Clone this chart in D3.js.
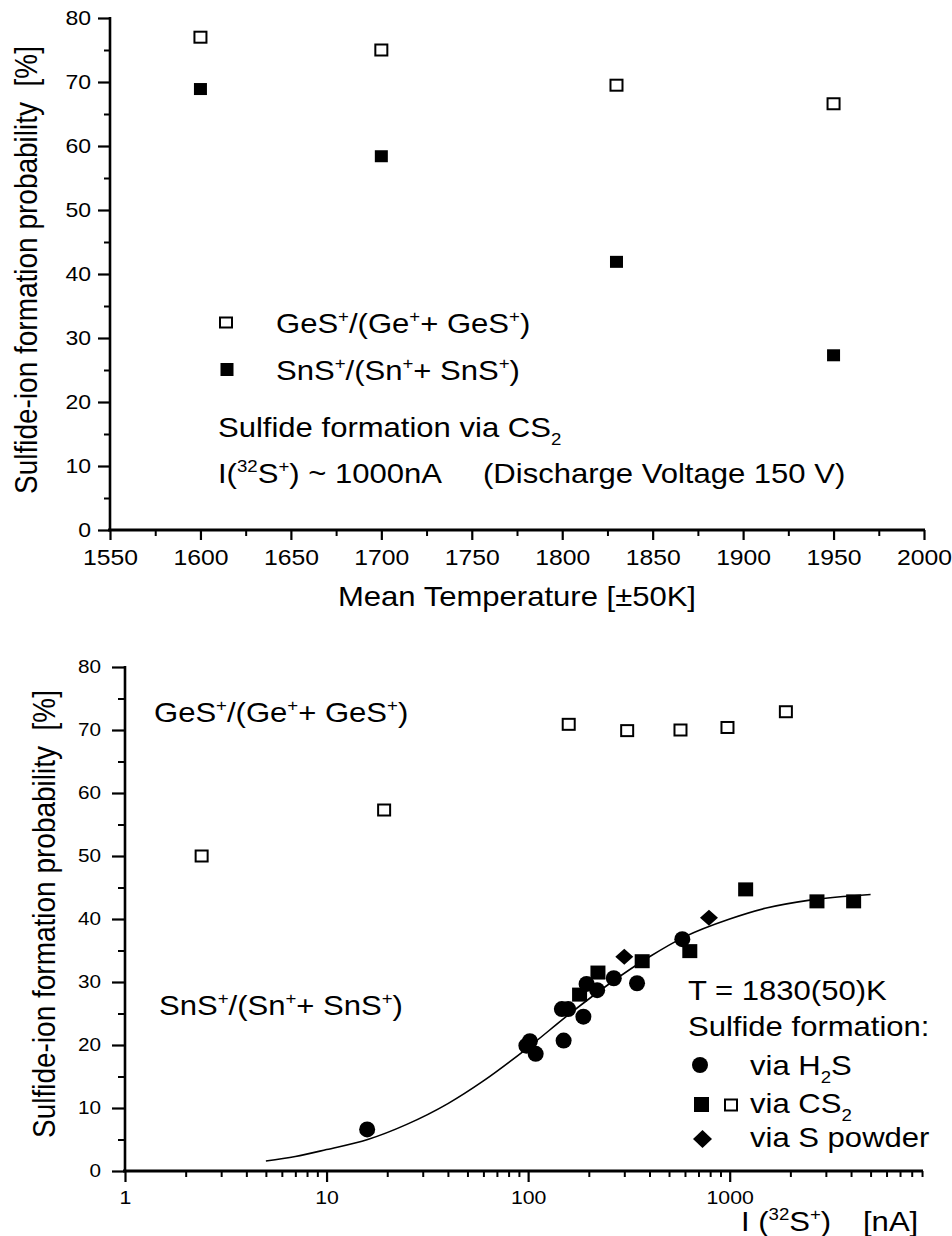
<!DOCTYPE html>
<html><head><meta charset="utf-8">
<script src="https://cdn.jsdelivr.net/npm/d3@7"></script>
<style>
html,body{margin:0;padding:0;background:#fff;}
svg{display:block;font-family:"Liberation Sans",Arial,Helvetica,sans-serif;}
</style></head><body>
<svg id="fig" width="952" height="1236"></svg>
<script>
// ---- Upper panel: formation probability vs. mean temperature (CS2 source) ----
const temps      = [1600, 1700, 1830, 1950];
const gesVsTemp  = [77.0, 75.0, 69.5, 66.6];   // GeS+/(Ge+ + GeS+)
const snsVsTemp  = [68.9, 58.4, 41.9, 27.3];   // SnS+/(Sn+ + SnS+)
const tempTicks  = [1550, 1600, 1650, 1700, 1750, 1800, 1850, 1900, 1950, 2000];
const tempMinor  = [1575, 1625, 1675, 1725, 1775, 1825, 1875, 1925, 1975];
const probTicks  = [0, 10, 20, 30, 40, 50, 60, 70, 80];
const probMinor  = [5, 15, 25, 35, 45, 55, 65, 75];

// ---- Lower panel: formation probability vs. 32S+ current, T = 1830(50) K ----
const gesCs2I    = [2.4, 19.3, 159, 310, 570, 975, 1900];
const gesCs2P    = [50.0, 57.3, 70.9, 69.9, 70.0, 70.4, 72.9];
const snsCs2I    = [180, 222, 368, 634, 1200, 2710, 4120];
const snsCs2P    = [28.0, 31.5, 33.3, 34.9, 44.7, 42.8, 42.8];
const snsH2sI    = [15.9, 98, 102, 109, 150, 147, 158, 188, 195, 220, 266, 347, 582];
const snsH2sP    = [6.6, 19.9, 20.6, 18.6, 20.7, 25.7, 25.7, 24.5, 29.7, 28.7, 30.6, 29.8, 36.8];
const snsPowderI = [300, 789];
const snsPowderP = [34.0, 40.2];
const fitI       = [5, 7, 10, 16, 25, 40, 60, 100, 160, 250, 400, 600, 1000, 1500, 2500, 5000];
const fitP       = [1.6, 2.3, 3.4, 5.0, 7.4, 10.7, 14.3, 19.6, 24.9, 29.6, 34.0, 37.2, 40.0, 41.7, 43.0, 43.9];
const currentTicks = [1, 10, 100, 1000];

const SX = 1.15;           // horizontal stretch of the lettering
const svg = d3.select("#fig");

// text with super/subscript parts: parts = ["abc", ["+", "sup"], ["2", "sub"], ...]
function rich(parent, x, y, parts, size, anchor = "start", rot = 0) {
  const g = parent.append("g")
    .attr("transform", `translate(${x},${y}) scale(${SX},1)` + (rot ? ` rotate(${rot})` : ""));
  const t = g.append("text").attr("font-size", size).attr("text-anchor", anchor).attr("fill", "#000");
  let shift = 0;
  parts.forEach(p => {
    const [s, kind] = Array.isArray(p) ? p : [p, null];
    const target = kind === "sup" ? -0.42 * size : kind === "sub" ? 0.3 * size : 0;
    const ts = t.append("tspan").attr("dy", target - shift).text(s);
    if (kind) ts.attr("font-size", size * 0.6);
    shift = target;
  });
  return t;
}

function styleAxis(g, lw) {
  g.selectAll("path.domain").remove();
  g.selectAll(".tick line").attr("stroke", "#000").attr("stroke-width", lw);
}

function squareOpen(g, cx, cy, w, h) {
  g.append("rect").attr("x", cx - w / 2).attr("y", cy - h / 2).attr("width", w).attr("height", h)
    .attr("fill", "#fff").attr("stroke", "#000").attr("stroke-width", 2);
}
function squareFilled(g, cx, cy, w, h) {
  g.append("rect").attr("x", cx - w / 2).attr("y", cy - h / 2).attr("width", w).attr("height", h).attr("fill", "#000");
}
function diamond(g, cx, cy, hw, hh) {
  g.append("path").attr("d", `M${cx},${cy - hh}L${cx + hw},${cy}L${cx},${cy + hh}L${cx - hw},${cy}Z`).attr("fill", "#000");
}

// ================= Upper panel =================
{
  const x = d3.scaleLinear().domain([1550, 2000]).range([110, 924]);
  const y = d3.scaleLinear().domain([0, 80]).range([530, 18]);
  const top = svg.append("g");

  // minor + major ticks
  const yMin = top.append("g").attr("transform", "translate(110,0)")
    .call(d3.axisLeft(y).tickValues(probMinor).tickSize(6).tickSizeOuter(0).tickFormat(""));
  styleAxis(yMin, 2);
  const yMaj = top.append("g").attr("transform", "translate(110,0)")
    .call(d3.axisLeft(y).tickValues(probTicks).tickSize(12).tickSizeOuter(0).tickPadding(7));
  styleAxis(yMaj, 2.2);
  yMaj.selectAll("text").attr("font-size", 20).attr("fill", "#000").attr("font-family", null)
    .attr("x", -19 / SX).attr("transform", `scale(${SX},1)`);

  const xMin = top.append("g").attr("transform", "translate(0,530)")
    .call(d3.axisBottom(x).tickValues(tempMinor).tickSize(6).tickSizeOuter(0).tickFormat(""));
  styleAxis(xMin, 2);
  const xMaj = top.append("g").attr("transform", "translate(0,530)")
    .call(d3.axisBottom(x).tickValues(tempTicks).tickSize(10).tickSizeOuter(0).tickPadding(10).tickFormat(d3.format("d")));
  styleAxis(xMaj, 2.2);
  xMaj.selectAll("text").attr("font-size", 21.5).attr("fill", "#000").attr("font-family", null)
    .attr("transform", `scale(${SX},1)`);

  // axis lines
  top.append("line").attr("x1", 110).attr("x2", 110).attr("y1", y(80) - 1).attr("y2", y(0) + 1)
    .attr("stroke", "#000").attr("stroke-width", 2.6);
  top.append("line").attr("x1", 108).attr("x2", x(2000) + 1).attr("y1", y(0)).attr("y2", y(0))
    .attr("stroke", "#000").attr("stroke-width", 2.8);

  // data
  temps.forEach((t, i) => squareOpen(top, x(t), y(gesVsTemp[i]), 12, 11));
  temps.forEach((t, i) => squareFilled(top, x(t), y(snsVsTemp[i]), 13, 12));

  // legend and notes
  squareOpen(top, 226, 322.5, 12, 10);
  squareFilled(top, 227, 369.5, 13, 13);
  rich(top, 276, 333, ["GeS", ["+", "sup"], "/(Ge", ["+", "sup"], "+ GeS", ["+", "sup"], ")"], 27);
  rich(top, 276, 380, ["SnS", ["+", "sup"], "/(Sn", ["+", "sup"], "+ SnS", ["+", "sup"], ")"], 27);
  rich(top, 218, 437, ["Sulfide formation via CS", ["2", "sub"]], 27);
  rich(top, 218, 483, ["I(", ["32", "sup"], "S", ["+", "sup"], ") ~ 1000nA"], 27);
  rich(top, 483, 483, ["(Discharge Voltage 150 V)"], 27);

  // axis titles
  rich(top, 517, 606, ["Mean Temperature [\u00B150K]"], 27, "middle");
  rich(top, 37, 270, ["Sulfide-ion formation probability\u00A0\u00A0[%]"], 28, "middle", -90);
}

// ================= Lower panel =================
{
  const x = d3.scaleLog().domain([1, 9100]).range([125, 923]);
  const y = d3.scaleLinear().domain([0, 80]).range([1171, 667]);
  const bot = svg.append("g");

  const logMinor = [];
  for (let k = 0; k < 4; k++) for (let m = 2; m <= 9; m++) {
    const v = m * Math.pow(10, k);
    if (v <= 9100) logMinor.push(v);
  }

  const yMin = bot.append("g").attr("transform", "translate(125,0)")
    .call(d3.axisLeft(y).tickValues(probMinor).tickSize(7).tickSizeOuter(0).tickFormat(""));
  styleAxis(yMin, 2);
  const yMaj = bot.append("g").attr("transform", "translate(125,0)")
    .call(d3.axisLeft(y).tickValues(probTicks).tickSize(13).tickSizeOuter(0).tickPadding(10));
  styleAxis(yMaj, 2.2);
  yMaj.selectAll("text").attr("font-size", 18).attr("fill", "#000").attr("font-family", null)
    .attr("x", -24 / SX).attr("transform", `scale(${SX},1)`);

  const xMin = bot.append("g").attr("transform", "translate(0,1171)")
    .call(d3.axisBottom(x).tickValues(logMinor).tickSize(6).tickSizeOuter(0).tickFormat(""));
  styleAxis(xMin, 2);
  const xMaj = bot.append("g").attr("transform", "translate(0,1171)")
    .call(d3.axisBottom(x).tickValues(currentTicks).tickSize(11).tickSizeOuter(0).tickPadding(9).tickFormat(d3.format("d")));
  styleAxis(xMaj, 2.2);
  xMaj.selectAll("text").attr("font-size", 18.5).attr("fill", "#000").attr("font-family", null)
    .attr("transform", `scale(${SX},1)`);

  bot.append("line").attr("x1", 125).attr("x2", 125).attr("y1", y(80) - 1).attr("y2", y(0) + 1)
    .attr("stroke", "#000").attr("stroke-width", 2.6);
  bot.append("line").attr("x1", 123).attr("x2", x(9100)).attr("y1", y(0)).attr("y2", y(0))
    .attr("stroke", "#000").attr("stroke-width", 2.8);

  // fitted curve through the SnS+ data
  const fit = fitI.map((v, i) => [x(v), y(fitP[i])]);
  bot.append("path").attr("d", d3.line().curve(d3.curveMonotoneX)(fit))
    .attr("fill", "none").attr("stroke", "#000").attr("stroke-width", 1.6);

  // data
  gesCs2I.forEach((v, i) => squareOpen(bot, x(v), y(gesCs2P[i]), 12, 11));
  snsH2sI.forEach((v, i) => bot.append("circle").attr("cx", x(v)).attr("cy", y(snsH2sP[i])).attr("r", 8).attr("fill", "#000"));
  snsCs2I.forEach((v, i) => squareFilled(bot, x(v), y(snsCs2P[i]), 15, 14));
  snsPowderI.forEach((v, i) => diamond(bot, x(v), y(snsPowderP[i]), 9, 8));

  // series labels
  rich(bot, 154, 722, ["GeS", ["+", "sup"], "/(Ge", ["+", "sup"], "+ GeS", ["+", "sup"], ")"], 27);
  rich(bot, 159, 1015, ["SnS", ["+", "sup"], "/(Sn", ["+", "sup"], "+ SnS", ["+", "sup"], ")"], 27);

  // legend
  rich(bot, 688, 1000, ["T = 1830(50)K"], 27);
  rich(bot, 688, 1036, ["Sulfide formation:"], 27);
  bot.append("circle").attr("cx", 700).attr("cy", 1065).attr("r", 8).attr("fill", "#000");
  rich(bot, 750, 1075, ["via H", ["2", "sub"], "S"], 27);
  squareFilled(bot, 701.5, 1104.5, 15, 15);
  squareOpen(bot, 731, 1105, 12, 11);
  rich(bot, 750, 1113, ["via CS", ["2", "sub"]], 27);
  diamond(bot, 702.5, 1139, 9.5, 9);
  rich(bot, 750, 1147, ["via S powder"], 27);

  // axis titles
  rich(bot, 741, 1231, ["I (", ["32", "sup"], "S", ["+", "sup"], ")"], 27);
  rich(bot, 863, 1231, ["[nA]"], 27);
  rich(bot, 55, 914, ["Sulfide-ion formation probability\u00A0\u00A0[%]"], 28, "middle", -90);
}
</script>
</body></html>
